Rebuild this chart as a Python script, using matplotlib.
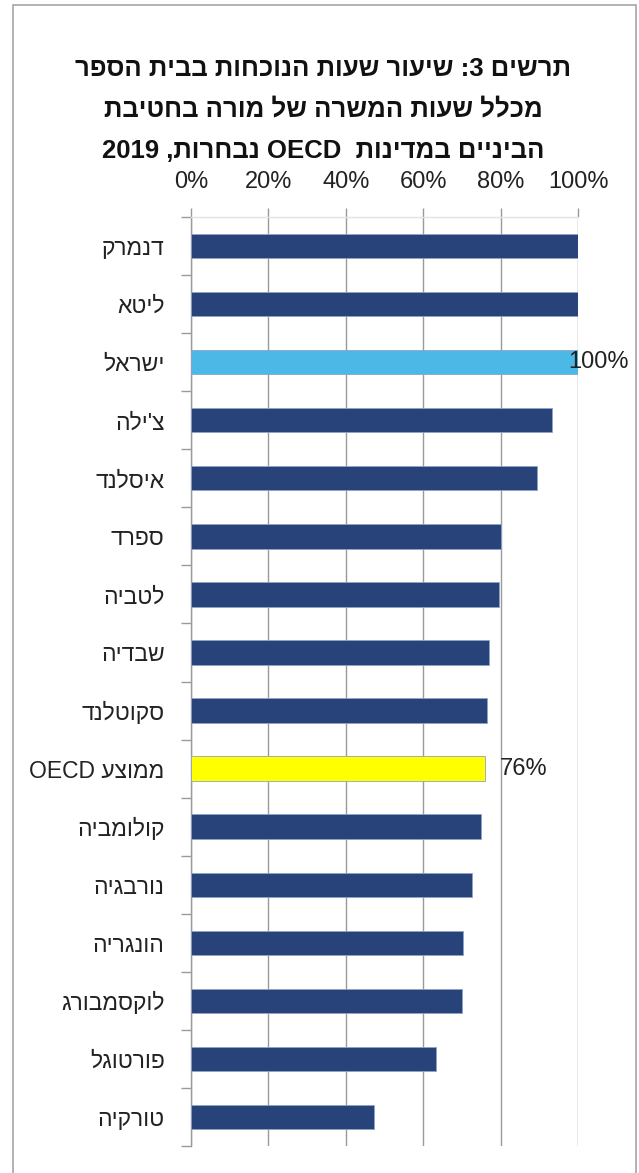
import re
import matplotlib
matplotlib.use('Agg')
import matplotlib.pyplot as plt
from matplotlib.patches import Rectangle
from matplotlib.ticker import FixedLocator, PercentFormatter

plt.rcParams['font.family'] = ['Liberation Sans', 'DejaVu Sans']

# data, top to bottom as in the chart
countries = ['דנמרק', 'ליטא', 'ישראל', "צ'ילה", 'איסלנד', 'ספרד', 'לטביה', 'שבדיה',
             'סקוטלנד', 'ממוצע OECD', 'קולומביה', 'נורבגיה', 'הונגריה', 'לוקסמבורג',
             'פורטוגל', 'טורקיה']
values = [100, 100, 100, 93.3, 89.4, 80.0, 79.5, 77.0, 76.5, 76.0, 75.0, 72.6, 70.4,
          70.0, 63.4, 47.2]
highlight = {'ישראל': '#4BB8E6', 'ממוצע OECD': '#FFFF00'}
labelled = {'ישראל': '100%', 'ממוצע OECD': '76%'}

title_lines = ['תרשים 3: שיעור שעות הנוכחות בבית הספר',
               'מכלל שעות המשרה של מורה בחטיבת',
               'הביניים במדינות  OECD נבחרות, 2019']


def rtl(s):
    # crude visual ordering for right-to-left text
    out = []
    for w in reversed(s.split(' ')):
        if any('\u0590' <= c <= '\u05ff' for c in w):
            out.append(w[::-1])
        else:
            m = re.match(r'^(.*?)([,:.]*)$', w)
            out.append(m.group(2)[::-1] + m.group(1))
    return ' '.join(out)


fig = plt.figure(figsize=(6.39, 11.73), dpi=100)
ax = fig.add_axes([191 / 639, 1 - 1146 / 1173, 387 / 639, 929 / 1173])

n = len(countries)
ypos = list(range(n))
colors = [highlight.get(c, '#28437A') for c in countries]
ax.barh(ypos, values, height=0.42, color=colors, edgecolor='#8EA3C8', linewidth=0.6,
        zorder=3)
ax.set_ylim(n - 0.5, -0.5)
ax.set_xlim(0, 100)

for i, c in enumerate(countries):
    if c in labelled:
        dx = -10 if values[i] >= 99 else 15
        ax.annotate(labelled[c], (values[i], i), xytext=(dx, 0), textcoords='offset pixels',
                    ha='left', va='center', fontsize=17, color='#222222', zorder=4)

ax.xaxis.set_major_locator(FixedLocator([0, 20, 40, 60, 80, 100]))
ax.xaxis.set_major_formatter(PercentFormatter(decimals=0))
ax.xaxis.tick_top()
ax.tick_params(axis='x', which='major', length=6.5, width=1, color='#9A9A9A', pad=11,
               labelsize=17, labelcolor='#222222')
ax.grid(axis='x', color='#9A9A9A', linewidth=1, zorder=0)

ax.set_yticks(ypos)
ax.set_yticklabels([rtl(c) for c in countries])
ax.yaxis.set_minor_locator(FixedLocator([i - 0.5 for i in range(n + 1)]))
ax.tick_params(axis='y', which='major', length=0, pad=19, labelsize=16.5,
               labelcolor='#222222')
ax.tick_params(axis='y', which='minor', length=7, width=1, color='#9A9A9A')

ax.spines['right'].set_visible(False)
ax.spines['bottom'].set_visible(False)
ax.spines['left'].set_color('#9A9A9A')
ax.spines['left'].set_linewidth(1)
ax.spines['top'].set_color('#E3E3E3')
ax.spines['top'].set_linewidth(1)

for line, yy in zip(title_lines, [69, 109, 151]):
    fig.text(323 / 639, 1 - yy / 1173, rtl(line), ha='center', va='center', fontsize=18.5,
             fontweight='bold', color='#111111')

fig.patches.append(Rectangle((13 / 639, -0.01), 623 / 639, 1.01 - 5 / 1173,
                             transform=fig.transFigure, fill=False, edgecolor='#A6A6A6',
                             linewidth=1.2))

fig.savefig('out.png', dpi=100)
